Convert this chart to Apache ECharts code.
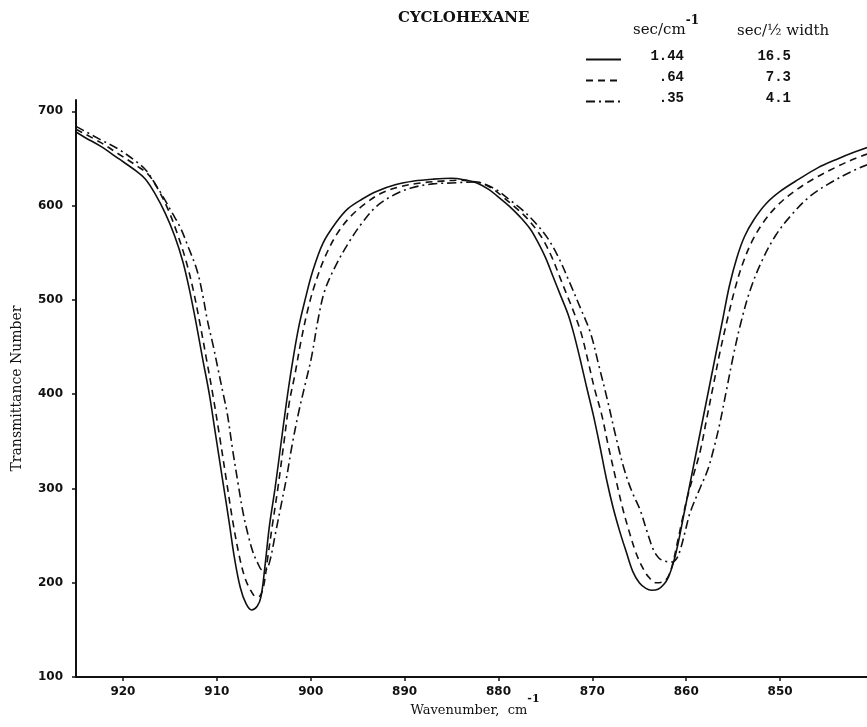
<!DOCTYPE html>
<html>
<head>
<meta charset="utf-8">
<script src="https://cdn.jsdelivr.net/npm/echarts@6/dist/echarts.min.js"></script>
<style>html,body{margin:0;padding:0;background:#fff;}#c{width:867px;height:727px;}</style>
</head>
<body>
<div id="c"></div>
<script>
// ---- data ----
const seriesNames = ['1.44', '.64', '.35'];          // sec/cm^-1
const halfWidths = ['16.5', '7.3', '4.1'];           // sec/(1/2 width)
const xTicks = [850, 860, 870, 880, 890, 900, 910, 920];
const yTicks = [100, 200, 300, 400, 500, 600, 700];

const solidX = [925, 924, 922.4, 920.5, 918.5, 917.6, 916.6, 915.5, 914.5, 913.6, 912.9, 912.2, 911.5, 910.8, 910.1, 909.4, 908.7, 908.1, 907.5, 906.9, 906.3, 905.7, 905.3, 904.9, 904.4, 903.8, 903.2, 902.6, 902.0, 901.3, 900.6, 899.8, 898.7, 897.3, 896.0, 894.5, 893.0, 891.0, 889.0, 887.0, 885.0, 883.5, 882.3, 881.0, 880.0, 878.8, 877.7, 876.6, 875.9, 875.0, 874.2, 873.4, 872.6, 872.0, 871.3, 870.6, 869.9, 869.2, 868.5, 867.8, 867.1, 866.4, 865.7, 865.0, 864.3, 863.7, 863.0, 862.4, 861.9, 861.4, 860.9, 860.3, 859.6, 858.9, 858.2, 857.5, 856.8, 856.1, 855.4, 854.6, 853.8, 852.8, 851.5, 850.0, 848.0, 846.0, 844.0, 842.0, 840.0];
const solidY = [678, 672, 663, 650, 636, 628, 613, 592, 568, 540, 510, 475, 437, 400, 355, 310, 265, 225, 195, 178, 171, 175, 185, 215, 260, 300, 345, 390, 430, 470, 500, 530, 560, 582, 597, 607, 615, 622, 626, 628, 629, 627, 624, 617, 609, 599, 588, 575, 563, 545, 525, 505, 485, 465, 437, 407, 378, 345, 310, 280, 255, 233, 212, 200, 194, 192, 193, 198, 206, 220, 240, 270, 305, 340, 375, 410, 445, 480, 515, 545, 567, 585, 602, 615, 628, 640, 649, 657, 664];

const dashX = [925, 922.4, 920.5, 918.5, 917.3, 916.3, 915.2, 914.2, 913.3, 912.5, 911.8, 911.1, 910.4, 909.7, 909.0, 908.3, 907.6, 907.0, 906.4, 905.8, 905.4, 905.0, 904.6, 904.1, 903.5, 902.9, 902.3, 901.7, 901.0, 900.3, 899.6, 898.5, 897.2, 895.8, 894.2, 892.5, 890.5, 888.3, 886.0, 884.1, 883.0, 881.8, 880.5, 879.5, 878.3, 877.1, 876.0, 875.2, 874.3, 873.5, 872.7, 871.9, 871.2, 870.5, 869.8, 869.0, 868.3, 867.5, 866.8, 866.1, 865.4, 864.7, 864.0, 863.2, 862.5, 862.0, 861.5, 861.0, 860.4, 859.9, 859.2, 858.5, 857.8, 857.1, 856.4, 855.6, 854.8, 854.0, 853.0, 851.8, 850.3, 848.5, 846.5, 844.0, 842.0, 840.0];
const dashY = [681, 667, 655, 642, 633, 618, 596, 570, 542, 510, 475, 437, 398, 355, 310, 265, 228, 205, 192, 185, 186, 197, 225, 260, 300, 345, 390, 420, 458, 490, 515, 545, 570, 588, 602, 613, 620, 624, 626, 627, 626, 624, 617, 609, 599, 588, 575, 563, 545, 525, 505, 485, 465, 437, 407, 378, 345, 310, 280, 255, 233, 217, 206, 200, 201, 205, 218, 240, 268, 290, 315, 340, 375, 410, 445, 480, 512, 538, 562, 582, 600, 615, 628, 641, 650, 657];

const dotX = [925, 922.4, 920.5, 918.5, 917.5, 916.5, 915.7, 914.8, 913.9, 913.0, 912.1, 911.5, 911.0, 910.4, 909.9, 909.4, 908.9, 908.3, 907.7, 907.2, 906.7, 906.2, 905.7, 905.1, 904.7, 904.3, 903.8, 903.2, 902.6, 902.0, 901.3, 900.6, 899.9, 899.2, 898.5, 897.4, 896.0, 894.5, 892.9, 891.0, 889.2, 887.0, 885.0, 882.5, 881.3, 880.1, 878.8, 877.4, 876.1, 874.8, 873.6, 872.4, 871.3, 870.2, 869.3, 868.4, 867.5, 866.6, 865.8, 864.9, 864.2, 863.5, 862.9, 862.3, 861.5, 861.0, 860.6, 860.1, 859.6, 858.5, 857.7, 857.1, 856.4, 855.7, 855.0, 854.2, 853.2, 852.0, 850.5, 848.8, 846.8, 844.5, 842.0, 840.0];
const dotY = [684, 670, 660, 646, 637, 622, 609, 593, 577, 555, 531, 505, 478, 452, 428, 404, 380, 340, 303, 274, 252, 234, 222, 213, 214, 225, 250, 280, 310, 345, 380, 410, 440, 480, 510, 535, 560, 582, 600, 612, 619, 623, 624, 625, 622, 616, 606, 595, 582, 566, 545, 518, 492, 465, 430, 394, 355, 320, 297, 277, 255, 235, 226, 223, 222, 226, 236, 255, 274, 301, 320, 341, 370, 405, 440, 475, 510, 540, 568, 590, 610, 625, 638, 646];

// ---- chart ----
const chart = echarts.init(document.getElementById('c'), null, {renderer: 'canvas'});
const pairs = (xs, ys) => xs.map((x, i) => [x, ys[i]]);
const serifFont = 'DejaVu Serif';
const lineColor = '#111';

const lineSeries = (name, xs, ys, type) => ({
  name: name,
  type: 'line',
  data: pairs(xs, ys),
  showSymbol: false,
  symbol: 'none',
  smooth: 0.35,
  lineStyle: {color: lineColor, width: 1.6, type: type},
  itemStyle: {color: lineColor},
  animation: false
});

chart.setOption({
  backgroundColor: '#fff',
  animation: false,
  title: {
    text: 'CYCLOHEXANE',
    left: 398, top: 11, padding: 0,
    textStyle: {fontFamily: serifFont, fontWeight: 'bold', fontSize: 15, color: '#111'}
  },
  graphic: [
    {type: 'text', left: 633, top: 15, style: {
      text: '{t|sec/cm}{s|-1}',
      rich: {
        t: {fontFamily: serifFont, fontSize: 15, fill: '#111', padding: [9, 0, 0, 0]},
        s: {fontFamily: serifFont, fontSize: 12, fontWeight: 'bold', fill: '#111', padding: [0, 0, 9, 0]}
      }
    }},
    {type: 'text', left: 737, top: 24, style: {
      text: 'sec/\u00bd width',
      fontFamily: serifFont, fontSize: 15, fill: '#111'
    }}
  ],
  legend: {
    orient: 'vertical',
    left: 585, top: 49, padding: 0,
    itemWidth: 35, itemHeight: 14, itemGap: 0,
    selectedMode: false,
    data: seriesNames,
    itemStyle: {opacity: 0},
    formatter: function (name) {
      const i = seriesNames.indexOf(name);
      return '{a|' + name + '}{b|' + halfWidths[i] + '}';
    },
    textStyle: {
      rich: {
        a: {fontFamily: 'Liberation Mono', fontSize: 14, fontWeight: 'bold', color: '#111', width: 58, align: 'right', lineHeight: 13, padding: [0, 0, 7, 0]},
        b: {fontFamily: 'Liberation Mono', fontSize: 14, fontWeight: 'bold', color: '#111', width: 107, align: 'right', lineHeight: 13, padding: [0, 0, 7, 0]}
      }
    }
  },
  grid: {left: 76, right: -7, top: 100, bottom: 50, outerBoundsMode: 'none', containLabel: false},
  xAxis: {
    type: 'value',
    inverse: true,
    min: 840, max: 925, interval: 10,
    name: '{n|Wavenumber,  cm}{s|-1}',
    nameLocation: 'middle',
    nameGap: 16,
    nameMoveOverlap: false,
    nameTextStyle: {
      rich: {
        n: {fontFamily: serifFont, fontSize: 13, color: '#111', padding: [11, 0, 0, 0]},
        s: {fontFamily: serifFont, fontSize: 11, fontWeight: 'bold', color: '#111', padding: [0, 0, 12, 0]}
      }
    },
    axisLine: {lineStyle: {color: '#111', width: 2}},
    axisTick: {show: true, length: 4, lineStyle: {color: '#111', width: 1.5}},
    axisLabel: {
      showMinLabel: false, showMaxLabel: false, margin: 9,
      fontFamily: 'DejaVu Sans', fontWeight: 'bold', fontSize: 12, color: '#111',
      formatter: v => (xTicks.indexOf(v) >= 0 ? String(v) : '')
    },
    splitLine: {show: false}
  },
  yAxis: {
    type: 'value',
    min: 100, max: 712, interval: 100,
    name: 'Transmittance Number',
    nameLocation: 'middle',
    nameGap: 52,
    nameMoveOverlap: false,
    nameTextStyle: {fontFamily: serifFont, fontSize: 14, color: '#111'},
    axisLine: {show: true, lineStyle: {color: '#111', width: 2}},
    axisTick: {show: true, length: 4, lineStyle: {color: '#111', width: 1.5}},
    axisLabel: {
      showMaxLabel: false, margin: 13,
      fontFamily: 'DejaVu Sans', fontWeight: 'bold', fontSize: 12, color: '#111',
      formatter: v => (yTicks.indexOf(v) >= 0 ? String(v) : '')
    },
    splitLine: {show: false}
  },
  series: [
    lineSeries(seriesNames[0], solidX, solidY, 'solid'),
    lineSeries(seriesNames[1], dashX, dashY, [7, 5]),
    lineSeries(seriesNames[2], dotX, dotY, [9, 4, 2, 4])
  ]
});
</script>
</body>
</html>
